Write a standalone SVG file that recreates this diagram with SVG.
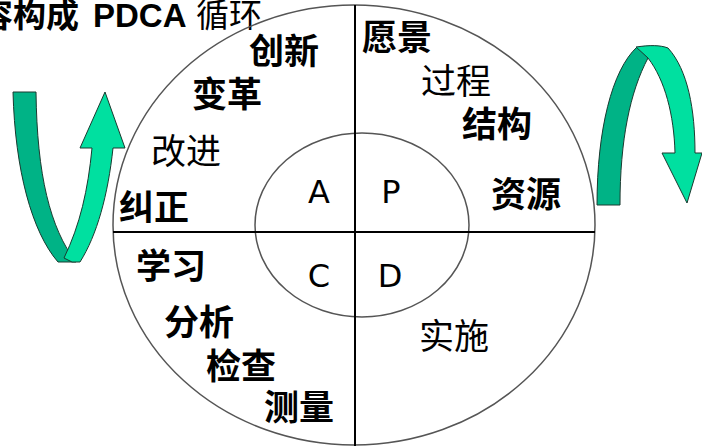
<svg xmlns="http://www.w3.org/2000/svg" width="702" height="446" viewBox="0 0 702 446">
<style>
.cj{font-family:"Noto Sans CJK SC","Liberation Sans",sans-serif;font-size:35px;fill:#000}
.b{font-weight:bold}
.n{font-weight:normal}
.ltr{font-family:"DejaVu Sans","Liberation Sans",sans-serif;font-size:32px;fill:#000;text-anchor:middle}
.ring{fill:none;stroke:#555;stroke-width:1.5}
.axis{stroke:#000;stroke-width:2}
.dk{fill:#00B386;stroke:#1a3a30;stroke-width:1}
.lt{fill:#00E0A0;stroke:#1a3a30;stroke-width:1}
</style>
<rect width="702" height="446" fill="#fff"/>
<g id="title">
<text y="27" font-size="33" font-family="Noto Sans CJK SC, Liberation Sans, sans-serif"><tspan x="-20" font-weight="bold">容构成</tspan><tspan x="93" font-family="Liberation Sans, Arial, sans-serif" font-weight="bold">PDCA</tspan><tspan x="196">循环</tspan></text>
</g>
<g id="outer-circle"><ellipse class="ring" cx="354" cy="225" rx="241" ry="220"/></g>
<g id="inner-circle"><ellipse class="ring" cx="362" cy="225" rx="107" ry="92"/></g>
<g id="connectors">
<line class="axis" x1="355" y1="5" x2="355" y2="446"/>
<line class="axis" x1="113" y1="232" x2="595" y2="232"/>
</g>
<g id="arrow-left">
<path class="dk" d="M13,92 H36 C37,175 50,228 76,262 H58 C32,232 15,170 13,92 Z"/>
<path class="lt" d="M64,258 C80,225 88,190 92,148 H80 L105,92 L125,148 H113 C108,195 97,235 80,262 H72 Z"/>
</g>
<g id="arrow-right">
<path class="dk" d="M597,205 H620 C620,140 630,92 648,58 L637,47 C612,70 597,130 597,205 Z"/>
<path class="lt" d="M636,47 C650,45 660,45 668,48 C688,70 695,110 695,153 H702 L687,203 L662,153 H675 C674,115 665,80 648,58 Z"/>
</g>
<g id="quadrant-A"><text class="ltr" x="319" y="203">A</text></g>
<g id="quadrant-P"><text class="ltr" x="391" y="203">P</text></g>
<g id="quadrant-C"><text class="ltr" x="319" y="287">C</text></g>
<g id="quadrant-D"><text class="ltr" x="390" y="287">D</text></g>
<g id="labels-A">
<text class="cj b" x="249" y="64">创新</text>
<text class="cj b" x="192" y="107">变革</text>
<text class="cj n" x="151" y="164">改进</text>
<text class="cj b" x="119" y="220">纠正</text>
</g>
<g id="labels-C">
<text class="cj b" x="136" y="279">学习</text>
<text class="cj b" x="164" y="335">分析</text>
<text class="cj b" x="206" y="379">检查</text>
<text class="cj b" x="264" y="420">测量</text>
</g>
<g id="labels-P">
<text class="cj b" x="362" y="50">愿景</text>
<text class="cj n" x="421" y="94">过程</text>
<text class="cj b" x="462" y="137">结构</text>
<text class="cj b" x="491" y="207">资源</text>
</g>
<g id="labels-D">
<text class="cj n" x="419" y="349">实施</text>
</g>
</svg>
